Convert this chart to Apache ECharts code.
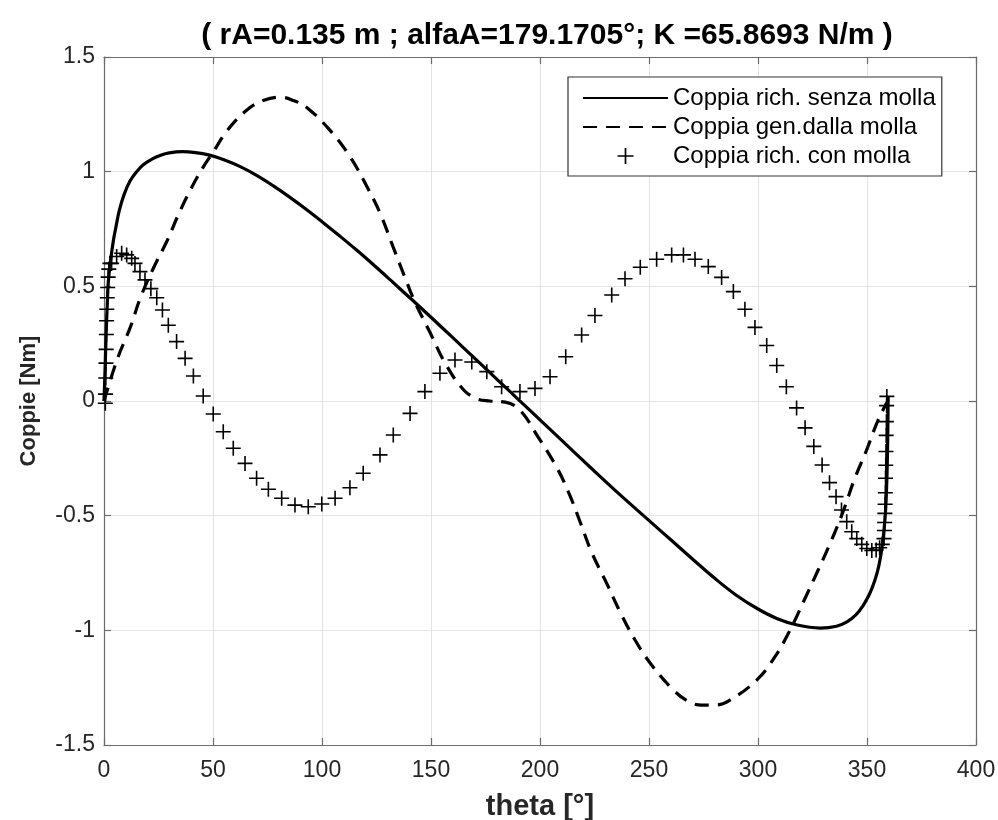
<!DOCTYPE html>
<html>
<head>
<meta charset="utf-8">
<title>Coppie</title>
<script src="https://cdn.jsdelivr.net/npm/echarts@6/dist/echarts.min.js"></script>
<style>
  html, body { margin: 0; padding: 0; background: #fff; }
  #chart { width: 998px; height: 820px; }
</style>
</head>
<body>
<div id="chart"></div>
<script>
// valori (theta in gradi, coppie in Nm)
const thetaSenza = [0, 0.5, 1, 1.5, 2, 3, 4.3, 5.5, 7, 9.2, 12, 15, 18, 22, 26, 30, 36, 42, 48, 55, 62.5, 70, 77.7, 85, 93, 100, 108.3, 116, 123.6, 131.2, 141.8, 150, 160, 172.3, 181, 190.6, 200, 210, 224.5, 236, 248.9, 260, 270.3, 280, 290.2, 300, 308.6, 318, 328.5, 336, 341, 345, 348, 351, 353.5, 355.4, 357, 358.5, 359.3, 359.7]
const coppiaSenza = [0, 0.14, 0.3, 0.42, 0.52, 0.61, 0.7, 0.76, 0.83, 0.9, 0.96, 1.0, 1.03, 1.055, 1.072, 1.082, 1.087, 1.083, 1.073, 1.052, 1.022, 0.984, 0.938, 0.89, 0.834, 0.782, 0.718, 0.657, 0.594, 0.529, 0.437, 0.365, 0.276, 0.166, 0.088, 0.002, -0.082, -0.172, -0.302, -0.403, -0.512, -0.605, -0.692, -0.772, -0.848, -0.907, -0.948, -0.977, -0.99, -0.982, -0.962, -0.932, -0.895, -0.845, -0.785, -0.72, -0.63, -0.48, -0.27, 0.02]

const thetaMolla = [0, 6, 12, 16.7, 22.7, 29, 34, 39.6, 45.5, 49.7, 56.6, 65.7, 73, 80.8, 87, 93, 103.7, 112.9, 120.6, 126.6, 132.7, 138, 142.7, 149.5, 156.5, 164.8, 171, 177, 184, 190.8, 199, 207.7, 213.4, 218.5, 223.7, 230.6, 236.7, 243.6, 251.2, 261.2, 268, 274.2, 281, 287.2, 299.4, 307.8, 314.7, 321.6, 327.6, 333.6, 339, 344.4, 349.8, 355.1, 359.5]
const coppiaMolla = [0, 0.18, 0.32, 0.45, 0.58, 0.7, 0.81, 0.92, 1.02, 1.08, 1.18, 1.27, 1.31, 1.325, 1.31, 1.28, 1.18, 1.065, 0.935, 0.82, 0.67, 0.54, 0.43, 0.3, 0.165, 0.05, 0.01, 0, -0.005, -0.04, -0.155, -0.29, -0.405, -0.53, -0.66, -0.795, -0.919, -1.042, -1.151, -1.26, -1.31, -1.326, -1.325, -1.304, -1.217, -1.115, -0.999, -0.86, -0.737, -0.61, -0.483, -0.337, -0.214, -0.083, 0]

const thetaCon = [0.6, 0.7, 0.8, 0.9, 1, 1.1, 1.2, 1.3, 1.5, 1.7, 1.9, 2.2, 2.7, 3.5, 5.8, 8.1, 10.4, 12.7, 14.2, 16.5, 18.8, 21.5, 24.2, 26.8, 29.5, 33.3, 37.2, 41, 45.5, 50.1, 54.7, 59.3, 64.7, 70, 75.4, 81.5, 87.6, 93.7, 99.9, 106, 112.8, 118.9, 126.6, 132.7, 140.4, 147.2, 154.1, 161, 168.7, 175.6, 182.4, 190.8, 197.7, 204.6, 211.8, 219.1, 225.2, 232.9, 239, 246, 253.5, 260.4, 265.8, 271.1, 277.2, 283.3, 288.7, 294, 298.6, 304, 308.6, 313, 317.7, 321.6, 325.6, 329.4, 332.8, 335.8, 338.3, 340.7, 343, 345.3, 347.6, 349.9, 352.2, 354.2, 355.8, 357, 357.8, 358, 358.1, 358.2, 358.3, 358.4, 358.5, 358.6, 358.7, 358.8, 358.9, 359, 359.1]
const coppiaCon = [-0.01, 0.03, 0.1, 0.165, 0.225, 0.29, 0.35, 0.4, 0.45, 0.495, 0.54, 0.575, 0.6, 0.6, 0.63, 0.644, 0.637, 0.622, 0.6, 0.564, 0.528, 0.49, 0.45, 0.397, 0.33, 0.259, 0.186, 0.109, 0.022, -0.057, -0.134, -0.206, -0.272, -0.337, -0.385, -0.424, -0.454, -0.461, -0.449, -0.424, -0.378, -0.315, -0.235, -0.148, -0.054, 0.041, 0.121, 0.179, 0.17, 0.128, 0.062, 0.041, 0.055, 0.106, 0.193, 0.288, 0.373, 0.462, 0.533, 0.583, 0.618, 0.637, 0.637, 0.618, 0.586, 0.539, 0.477, 0.4, 0.321, 0.242, 0.155, 0.062, -0.03, -0.117, -0.198, -0.279, -0.356, -0.417, -0.475, -0.526, -0.57, -0.6, -0.625, -0.643, -0.652, -0.65, -0.64, -0.625, -0.6, -0.565, -0.53, -0.49, -0.45, -0.4, -0.337, -0.28, -0.22, -0.15, -0.09, -0.02, 0.02]

const nomiSerie = ['Coppia rich. senza molla', 'Coppia gen.dalla molla', 'Coppia rich. con molla']
const titolo = '( rA=0.135 m ; alfaA=179.1705°; K =65.8693 N/m )'
const xMin = 0, xMax = 400, xStep = 50
const yMin = -1.5, yMax = 1.5, yStep = 0.5

const font = "'Liberation Sans', Arial, Helvetica, sans-serif"
const axisColor = '#6b6b6b'
const croce = 'path://M6.7,0H8.3V6.7H15V8.3H8.3V15H6.7V8.3H0V6.7H6.7Z'

const pairs = (xs, ys) => xs.map((x, i) => [x, ys[i]])

const chart = echarts.init(document.getElementById('chart'), null, {renderer: 'canvas'})

const baseAxis = {
  axisLine: {show: true, onZero: false, lineStyle: {color: axisColor, width: 1.2}},
  axisTick: {show: true, inside: true, length: 7, lineStyle: {color: axisColor, width: 1.2}},
  splitLine: {show: true, lineStyle: {color: '#e3e3e3', width: 1}},
  axisLabel: {color: '#262626', fontFamily: font, fontSize: 23}
}

const option = {
  animation: false,
  backgroundColor: '#fff',
  title: {
    text: titolo,
    left: 542,
    top: 16,
    textAlign: 'center',
    textStyle: {fontFamily: font, fontSize: 30, fontWeight: 'bold', color: '#000'}
  },
  // niente ridimensionamento automatico: la griglia resta dove la metto
  grid: {left: 104, right: 22, top: 57, bottom: 75, containLabel: false, outerBoundsMode: 'none'},
  legend: {
    orient: 'vertical',
    left: 568,
    top: 77,
    padding: [9, 6, 8, 14],
    itemGap: 5,
    itemWidth: 85,
    itemHeight: 20,
    backgroundColor: '#fff',
    borderColor: '#333',
    borderWidth: 1.2,
    textStyle: {fontFamily: font, fontSize: 24, color: '#000'},
    data: [
      {name: nomiSerie[0], itemStyle: {opacity: 0}},
      {name: nomiSerie[1], itemStyle: {opacity: 0}},
      {name: nomiSerie[2], lineStyle: {opacity: 0}}
    ]
  },
  xAxis: [
    Object.assign({}, baseAxis, {
      type: 'value', min: xMin, max: xMax, interval: xStep,
      name: 'theta [°]', nameLocation: 'middle', nameGap: 47,
      nameTextStyle: {fontFamily: font, fontSize: 29, fontWeight: 'bold', color: '#262626'},
      axisLabel: Object.assign({}, baseAxis.axisLabel, {margin: 14})
    }),
    Object.assign({}, baseAxis, {
      type: 'value', position: 'top', min: xMin, max: xMax, interval: xStep,
      axisLabel: {show: false}, splitLine: {show: false}
    })
  ],
  yAxis: [
    Object.assign({}, baseAxis, {
      type: 'value', min: yMin, max: yMax, interval: yStep,
      name: 'Coppie [Nm]', nameLocation: 'middle', nameGap: 64,
      nameTextStyle: {fontFamily: font, fontSize: 22, fontWeight: 'bold', color: '#262626'},
      axisLabel: Object.assign({}, baseAxis.axisLabel, {margin: 9})
    }),
    Object.assign({}, baseAxis, {
      type: 'value', position: 'right', min: yMin, max: yMax, interval: yStep,
      axisLabel: {show: false}, splitLine: {show: false}
    })
  ],
  series: [
    {
      name: nomiSerie[0],
      type: 'line',
      data: pairs(thetaSenza, coppiaSenza),
      symbol: 'none',
      smooth: 0.4,
      lineStyle: {color: '#000', width: 3.2},
      itemStyle: {color: '#000'},
      z: 3
    },
    {
      name: nomiSerie[1],
      type: 'line',
      data: pairs(thetaMolla, coppiaMolla),
      symbol: 'none',
      smooth: 0.4,
      lineStyle: {color: '#000', width: 3.2, type: [14, 9]},
      itemStyle: {color: '#000'},
      z: 3
    },
    {
      name: nomiSerie[2],
      type: 'line',
      data: pairs(thetaCon, coppiaCon),
      symbol: croce,
      symbolSize: 15,
      showSymbol: true,
      lineStyle: {opacity: 0, width: 0},
      itemStyle: {color: '#000'},
      z: 4
    }
  ]
}

chart.setOption(option)
</script>
</body>
</html>
